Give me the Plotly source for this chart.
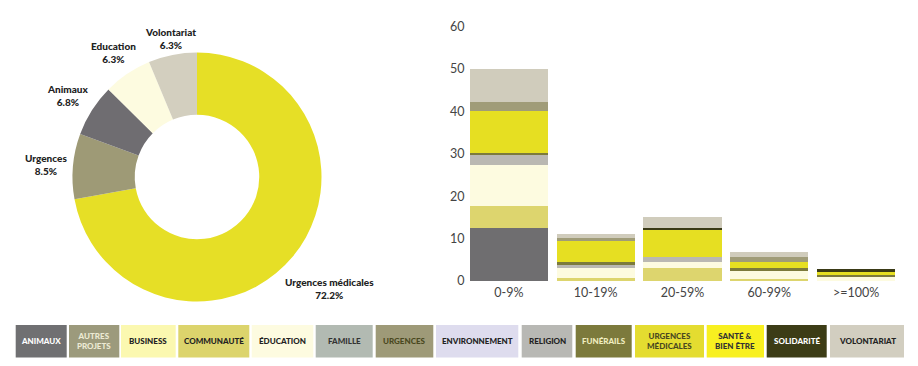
import plotly.graph_objects as go

# ---------------- data ----------------
pie_labels = ["Urgences médicales", "Urgences", "Animaux", "Education", "Volontariat"]
pie_values = [72.2, 8.5, 6.8, 6.3, 6.3]
pie_colors = ["#e6df26", "#9e9a76", "#6f6d71", "#fdfbe0", "#d3cfbf"]

bins = ["0-9%", "10-19%", "20-59%", "60-99%", ">=100%"]
s_animaux = [12.5, 0, 0, 0, 0]
s_communaute = [5.1, 0.8, 3.0, 0.4, 0]
s_education = [9.7, 2.2, 1.5, 2.2, 1.0]
s_religion = [2.6, 1.0, 1.1, 0, 0]
s_funerailles = [0.4, 0.45, 0, 0.4, 0.5]
s_urg_med = [9.7, 5.0, 6.4, 1.5, 0.6]
s_solidarite = [0, 0, 0.5, 0, 0.65]
s_urgences = [2.3, 0.6, 0, 1.2, 0]
s_volontariat = [7.7, 1.1, 2.5, 1.2, 0]

legend_names = ["ANIMAUX", "AUTRES<br>PROJETS", "BUSINESS", "COMMUNAUTÉ", "ÉDUCATION",
                "FAMILLE", "URGENCES", "ENVIRONNEMENT", "RELIGION", "FUNÉRAILS",
                "URGENCES<br>MÉDICALES", "SANTÉ &<br>BIEN ÊTRE", "SOLIDARITÉ", "VOLONTARIAT"]
legend_colors = ["#707072", "#9c9a7c", "#fbf8b0", "#dcd46c", "#fdfbe0",
                 "#b2bab2", "#9e9a78", "#dedcee", "#b8b8b4", "#7c7a3c",
                 "#e4dc30", "#f8f020", "#3c3c16", "#d2cec0"]
legend_text_colors = ["#ffffff", "#ecead4", "#222222", "#222222", "#222222",
                      "#333333", "#4a4820", "#222222", "#222222", "#f0eec0",
                      "#4a4820", "#333333", "#ffffff", "#222222"]

# ---------------- figure ----------------
OFF = 8  # page body margin
W, H = 918 - 2 * OFF, 366 - 2 * OFF
FONT = "Lato"


def fx(px):
    return (px - OFF) / W


def fy(py):
    return 1 - (py - OFF) / H


fig = go.Figure()

# donut
cx, cy, r = 197, 177, 124.5
fig.add_trace(go.Pie(
    labels=pie_labels, values=pie_values, hole=0.5, sort=False,
    direction="clockwise", rotation=0, textinfo="none", hoverinfo="label+percent",
    marker=dict(colors=pie_colors, line=dict(width=0)),
    domain=dict(x=[fx(cx - r), fx(cx + r)], y=[fy(cy + r), fy(cy - r)]),
    showlegend=False,
))

# pie label positions (pixel centres)
pie_label_pos = [(329, 288), (46, 164), (68, 95), (113, 53), (170, 38)]
for (px, py), lab, val in zip(pie_label_pos, pie_labels, pie_values):
    fig.add_annotation(x=fx(px), y=fy(py), xref="paper", yref="paper",
                       text=f"{lab}<br>{val}%", showarrow=False,
                       font=dict(family=FONT, size=10, color="#222222", weight=900),
                       align="center", xanchor="center", yanchor="middle")

# stacked bars
series = [
    ("Animaux", s_animaux, "#6f6e70"),
    ("Communauté", s_communaute, "#ddd56e"),
    ("Éducation", s_education, "#fdfbe0"),
    ("Religion", s_religion, "#bab8b2"),
    ("Funérailles", s_funerailles, "#7c7a3c"),
    ("Urgences médicales", s_urg_med, "#e6df22"),
    ("Solidarité", s_solidarite, "#3a3a16"),
    ("Urgences", s_urgences, "#a09c78"),
    ("Volontariat", s_volontariat, "#d0ccbc"),
]
for name, vals, col in series:
    fig.add_trace(go.Bar(x=bins, y=vals, name=name, marker=dict(color=col, line=dict(width=0)),
                         showlegend=False, xaxis="x", yaxis="y"))

fig.update_layout(
    width=W, height=H, margin=dict(l=0, r=0, t=0, b=0, autoexpand=False),
    paper_bgcolor="white", plot_bgcolor="white",
    barmode="stack", bargap=0.1,
    font=dict(family=FONT, color="#444444"),
    xaxis=dict(domain=[fx(465.5), fx(899.5)], showgrid=False, showline=False, zeroline=False,
               ticks="", automargin=False, ticklabelstandoff=2,
               tickfont=dict(size=12.5, color="#444444")),
    yaxis=dict(domain=[fy(281), fy(26.7)], range=[0, 60], dtick=10,
               showgrid=False, showline=False, zeroline=False, ticks="", automargin=False,
               tickfont=dict(size=12.5, color="#444444")),
)

# legend boxes (layout positions)
box_edges = [(15.7, 66.7), (69, 119.3), (121, 175.7), (178.3, 249.3), (251.7, 313.3),
             (315.7, 372.7), (375.7, 433.3), (436, 518.3), (521.7, 572.3), (575.7, 631.7),
             (635, 704), (706.7, 764), (766.7, 826.7), (830, 904)]
y0, y1 = 325, 357.5
for (x0, x1), nm, col, tcol in zip(box_edges, legend_names, legend_colors, legend_text_colors):
    fig.add_shape(type="rect", xref="paper", yref="paper",
                  x0=fx(x0), x1=fx(x1), y0=fy(y1), y1=fy(y0),
                  fillcolor=col, line=dict(width=0), layer="above")
    fig.add_annotation(x=fx((x0 + x1) / 2), y=fy((y0 + y1) / 2), xref="paper", yref="paper",
                       text=nm, showarrow=False,
                       font=dict(family=FONT, size=8, color=tcol, weight=900),
                       align="center", xanchor="center", yanchor="middle")

fig.write_html("out.html")
